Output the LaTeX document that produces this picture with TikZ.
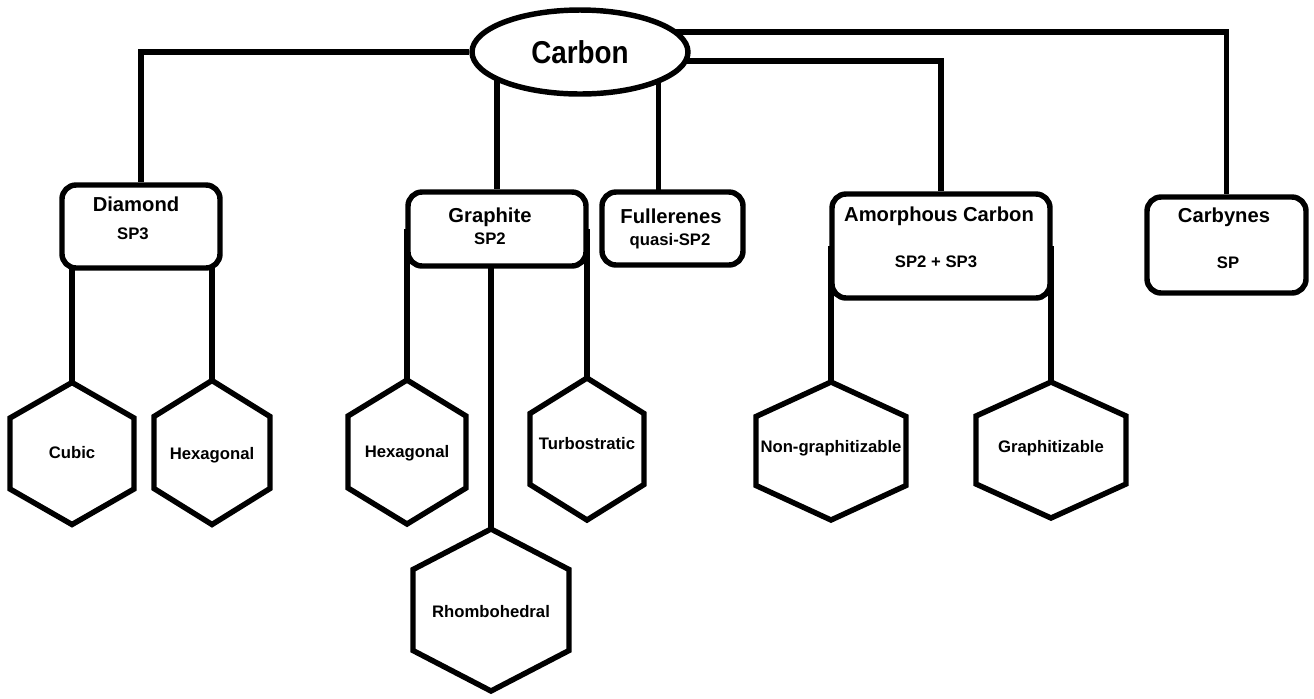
\documentclass[tikz,border=0pt]{standalone}
\usepackage{fontspec}
\setmainfont{Liberation Sans}
\newfontfamily\rootfont[FakeStretch=0.88]{Liberation Sans}
\usetikzlibrary{positioning,calc,backgrounds,fit,shapes.geometric}
\tikzset{
    every node/.style={font=\bfseries},
    line/.style={line width=3.1pt},
    rbox/.style={draw, line width=3.1pt, fill=white, rounded corners=8pt, inner sep=0pt},
    rootnode/.style={draw, ellipse, line width=3.1pt, fill=white, inner sep=0pt,
        minimum width=4.32cm, minimum height=1.68cm, font=\rootfont\bfseries\fontsize{18}{21}\selectfont},
    title/.style={font=\bfseries\fontsize{11.5}{13}\selectfont, inner sep=0pt, anchor=base},
    sub/.style={font=\bfseries\fontsize{9.5}{11}\selectfont, inner sep=0pt, anchor=base},
    hexlabel/.style={font=\bfseries\fontsize{9.5}{11}\selectfont, inner sep=0pt, anchor=base},
}
% name, centre x, centre y, half width, half height, label baseline, text
\newcommand{\hexnode}[7]{%
  \draw[line, fill=white] (#2,#3-#5) coordinate (#1-top) -- ++(#4,#5/2) -- ++(0,#5)
     -- ++(-#4,#5/2) -- ++(-#4,-#5/2) -- ++(0,-#5) -- cycle;
  \node[hexlabel] (#1) at (#2,#6) {#7};
}
\begin{document}
\begin{tikzpicture}[x=0.02cm, y=-0.02cm]
\useasboundingbox (0,0) rectangle (1314,698);
% root
\node[rootnode] (carbon) at (580,52) {Carbon};
% allotropes
\node[rbox, fit={(62,185) (220,268)}] (dia) {};
\node[rbox, fit={(408,192) (586,266)}] (gra) {};
\node[rbox, fit={(602,192) (743,265)}] (ful) {};
\node[rbox, fit={(832,194) (1050,298)}] (amo) {};
\node[rbox, fit={(1147,197) (1306,293)}] (cby) {};
\node[title] (dia-t) at (136,211) {Diamond};
\node[sub] (dia-s) at (133,239) {SP3};
\node[title] (gra-t) at (490,222) {Graphite};
\node[sub] (gra-s) at (490,244) {SP2};
\node[title] (ful-t) at (671,223) {Fullerenes};
\node[sub] (ful-s) at (670,245) {quasi-SP2};
\node[title] (amo-t) at (939,221) {Amorphous Carbon};
\node[sub] (amo-s) at (936,267) {SP2 + SP3};
\node[title] (cby-t) at (1224,222) {Carbynes};
\node[sub] (cby-s) at (1228,268) {SP};
% structures
\hexnode{cub}{72}{453.5}{62}{71}{458}{Cubic}
\hexnode{hxd}{212}{452.5}{58}{72}{459}{Hexagonal}
\hexnode{hxg}{407}{452}{59}{72}{457}{Hexagonal}
\hexnode{tur}{587}{449}{57}{71}{449}{Turbostratic}
\hexnode{rho}{491}{610}{78}{81}{617}{Rhombohedral}
\hexnode{non}{831}{451}{75}{69}{452}{Non-graphitizable}
\hexnode{gph}{1051}{450}{75}{68}{452}{Graphitizable}
% connectors
\begin{scope}[on background layer]
\draw[line] (carbon) -| (dia);
\draw[line] (carbon -| gra) -- (gra);
\coordinate (ful-in) at ([xshift=-0.28cm]ful.center);
\draw[line] (carbon -| ful-in) -- (ful-in);
\draw[line] ([yshift=-0.18cm]carbon.center) -| (amo);
\draw[line] ([yshift=0.4cm]carbon.center) -| (cby);
\foreach \h/\b in {cub/dia, hxd/dia, hxg/gra, rho/gra, tur/gra, non/amo, gph/amo}
  \draw[line] (\h-top) -- (\h-top |- \b);
\end{scope}
\end{tikzpicture}
\end{document}
